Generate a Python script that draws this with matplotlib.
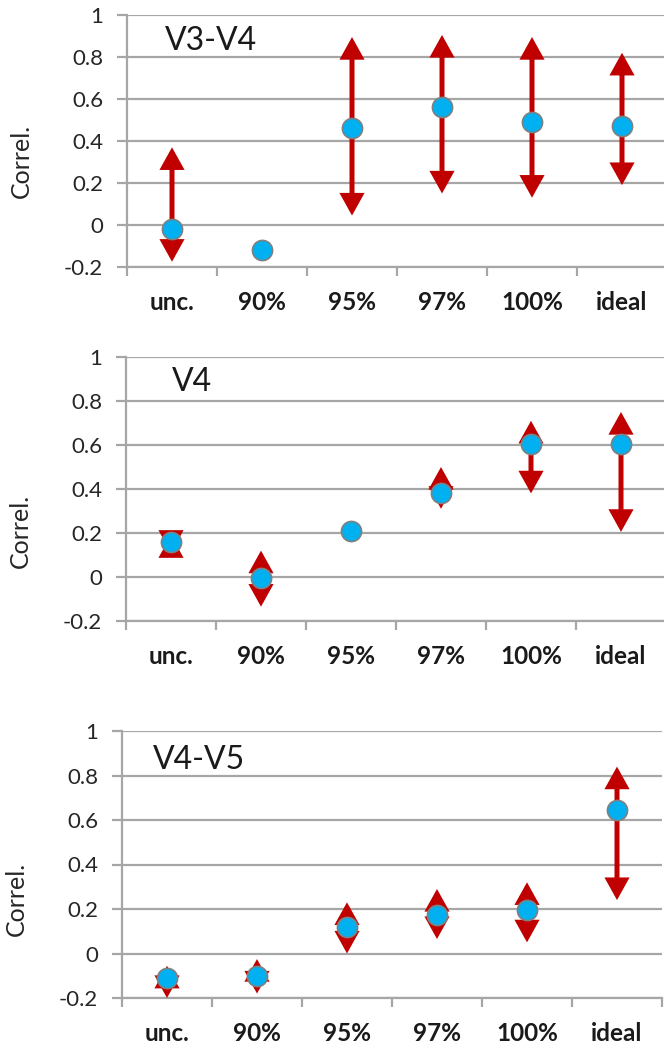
"""
Correlation per selection level for three variable pairs.
Three stacked Excel-style panels with double-headed error arrows.
"""

import numpy as np
import matplotlib
matplotlib.use("Agg")
import matplotlib.pyplot as plt


# ------------------------------------------------------------------
# Data
# ------------------------------------------------------------------
categories = ["unc.", "90%", "95%", "97%", "100%", "ideal"]

titles = ["V3-V4", "V4", "V4-V5"]

# central values
corr_v3v4 = [-0.02, -0.12, 0.46, 0.56, 0.49, 0.47]
corr_v4   = [0.16, -0.005, 0.21, 0.38, 0.605, 0.605]
corr_v4v5 = [-0.11, -0.10, 0.12, 0.175, 0.195, 0.645]

# arrow tips (upper / lower end of the error range), nan = no bar
upper_v3v4 = [0.37, np.nan, 0.895, 0.905, 0.895, 0.82]
lower_v3v4 = [-0.175, np.nan, 0.045, 0.15, 0.13, 0.19]

upper_v4 = [0.19, 0.12, np.nan, 0.50, 0.71, 0.75]
lower_v4 = [0.11, -0.135, np.nan, 0.31, 0.38, 0.205]

upper_v4v5 = [-0.055, -0.025, 0.23, 0.29, 0.32, 0.84]
lower_v4v5 = [-0.20, -0.18, 0.0, 0.065, 0.05, 0.24]

yticks = [-0.2, 0, 0.2, 0.4, 0.6, 0.8, 1]
ytick_labels = ["-0.2", "0", "0.2", "0.4", "0.6", "0.8", "1"]


# ------------------------------------------------------------------
# Style
# ------------------------------------------------------------------
FONT       = ["Lato", "DejaVu Sans"]
GRID_COL   = "#a6a6a6"
TEXT_COL   = "#262626"
ARROW_COL  = "#c00000"
MARKER_COL = "#00b0f0"

W_PX, H_PX = 664, 1048

# axes boxes in pixels: left, right, top, bottom
BOXES = [
    (127, 667, 15, 267),
    (126, 666, 357, 621),
    (122, 662, 731, 998),
]
# title anchor (axes fraction, left / baseline)
TITLE_POS = [(0.070, 0.861), (0.085, 0.871), (0.057, 0.858)]
# y-label centre height (axes fraction)
YLABEL_Y = [0.42, 0.34, 0.37]

plt.rcParams["font.family"] = FONT


def px_box(left, right, top, bottom):
    return [left / W_PX, 1 - bottom / H_PX,
            (right - left) / W_PX, (bottom - top) / H_PX]


def draw_panel(ax, title, tpos, ylab_y, values, upper, lower):
    x = np.arange(len(categories))

    ax.set_xlim(-0.5, len(categories) - 0.5)
    ax.set_ylim(-0.2, 1.0)

    # grid + axes in Excel look
    ax.set_yticks(yticks)
    ax.set_yticklabels(ytick_labels)
    ax.yaxis.grid(True, color=GRID_COL, linewidth=1.6)
    ax.set_axisbelow(True)
    for s in ["top", "right"]:
        ax.spines[s].set_visible(False)
    for s in ["left", "bottom"]:
        ax.spines[s].set_color(GRID_COL)
        ax.spines[s].set_linewidth(1.6)

    ax.tick_params(axis="y", length=7.2, width=1.6, color=GRID_COL,
                   labelsize=16, labelcolor=TEXT_COL, pad=10)

    # category boundaries as major ticks, labels on minor ticks
    ax.set_xticks(np.arange(-0.5, len(categories)))
    ax.set_xticklabels([])
    ax.set_xticks(x, minor=True)
    ax.set_xticklabels(categories, minor=True, fontweight="bold")
    ax.tick_params(axis="x", which="major", length=6.5, width=1.6,
                   color=GRID_COL)
    ax.tick_params(axis="x", which="minor", length=0, labelsize=17.5,
                   labelcolor="#1a1a1a", pad=17)

    # error arrows, drawn from the point to each end
    head = "-|>,head_length=0.9,head_width=0.5"
    for xi, yv, hi, lo in zip(x, values, upper, lower):
        for end in (hi, lo):
            if np.isnan(end):
                continue
            ax.annotate("", xy=(xi, end), xytext=(xi, yv),
                        arrowprops=dict(arrowstyle=head, color=ARROW_COL,
                                        lw=3.6, shrinkA=0, shrinkB=0,
                                        mutation_scale=12,
                                        joinstyle="miter",
                                        capstyle="butt"),
                        zorder=3)

    ax.plot(x, values, linestyle="none", marker="o", markersize=14.5,
            markerfacecolor=MARKER_COL, markeredgecolor="#808080",
            markeredgewidth=1.2, zorder=5, clip_on=False)

    ax.text(tpos[0], tpos[1], title, transform=ax.transAxes,
            ha="left", va="baseline", fontsize=23, color="#1a1a1a")

    ax.set_ylabel("Correl.", fontsize=18, color=TEXT_COL)
    ax.yaxis.set_label_coords(-0.174, ylab_y)


fig = plt.figure(figsize=(W_PX / 100, H_PX / 100), dpi=100)
fig.patch.set_facecolor("white")

panels = [
    (corr_v3v4, upper_v3v4, lower_v3v4),
    (corr_v4, upper_v4, lower_v4),
    (corr_v4v5, upper_v4v5, lower_v4v5),
]

for box, title, tpos, ly, (vals, hi, lo) in zip(BOXES, titles, TITLE_POS,
                                                 YLABEL_Y, panels):
    ax = fig.add_axes(px_box(*box))
    draw_panel(ax, title, tpos, ly, vals, hi, lo)

fig.savefig("out.png", dpi=100)
print("saved out.png")
